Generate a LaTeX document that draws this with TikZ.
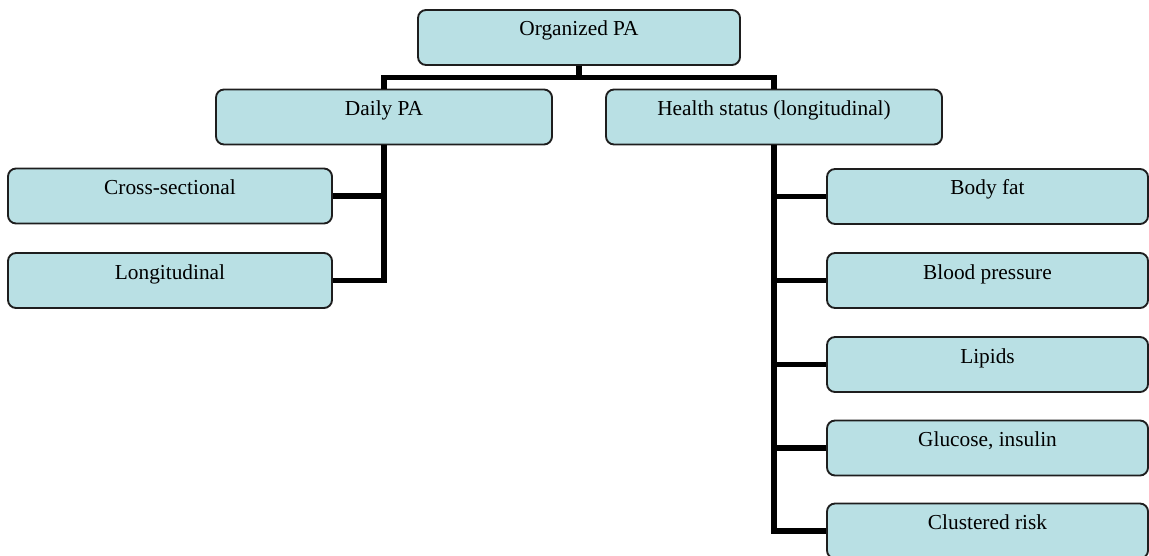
\documentclass[tikz,border=0pt]{standalone}
\usepackage{fontspec}
\setmainfont{Liberation Serif}
\definecolor{boxfill}{RGB}{185,224,228}
\definecolor{boxline}{RGB}{30,30,30}
\begin{document}
\begin{tikzpicture}[x=0.75pt,y=-0.75pt,
  box/.style={rectangle, draw=boxline, line width=1.4pt, fill=boxfill,
    rounded corners=6pt, inner sep=0pt, text height=19.5pt, text depth=21.75pt,
    font=\fontsize{16}{18}\selectfont, align=center},
  wbox/.style={box, minimum width=#1},
  conn/.style={draw=black, line width=3.9pt, line join=miter}]
\useasboundingbox (0,0) rectangle (1149,556);
\clip (0,0) rectangle (1149,556);
% nodes
\node[wbox=241.5pt] (org) at (579,37.5) {Organized PA};
\node[wbox=252pt] (daily) at (384,117) {Daily PA};
\node[wbox=252pt] (health) at (774,117) {Health status (longitudinal)};
\node[wbox=243pt] (cross) at (170,196) {Cross-sectional};
\node[wbox=243pt] (longi) at (170,280.5) {Longitudinal};
\node[wbox=240.75pt] (bf) at (987.5,196.5) {Body fat};
\node[wbox=240.75pt] (bp) at (987.5,280.5) {Blood pressure};
\node[wbox=240.75pt] (lip) at (987.5,364.5) {Lipids};
\node[wbox=240.75pt] (glu) at (987.5,448) {Glucose, insulin};
\node[wbox=240.75pt] (clus) at (987.5,531) {Clustered risk};
\coordinate (hb) at (579,77.5);
% connectors
\draw[conn] (org.south) -- (hb);
\draw[conn] (daily.north) |- (hb) -| (health.north);
\draw[conn] (daily.south) |- (longi.east);
\draw[conn] (cross.east) -- (cross.east -| daily.south);
\draw[conn] (health.south) |- (clus.west);
\draw[conn] (bf.west) -- (bf.west -| health.south);
\draw[conn] (bp.west) -- (bp.west -| health.south);
\draw[conn] (lip.west) -- (lip.west -| health.south);
\draw[conn] (glu.west) -- (glu.west -| health.south);
\end{tikzpicture}
\end{document}
